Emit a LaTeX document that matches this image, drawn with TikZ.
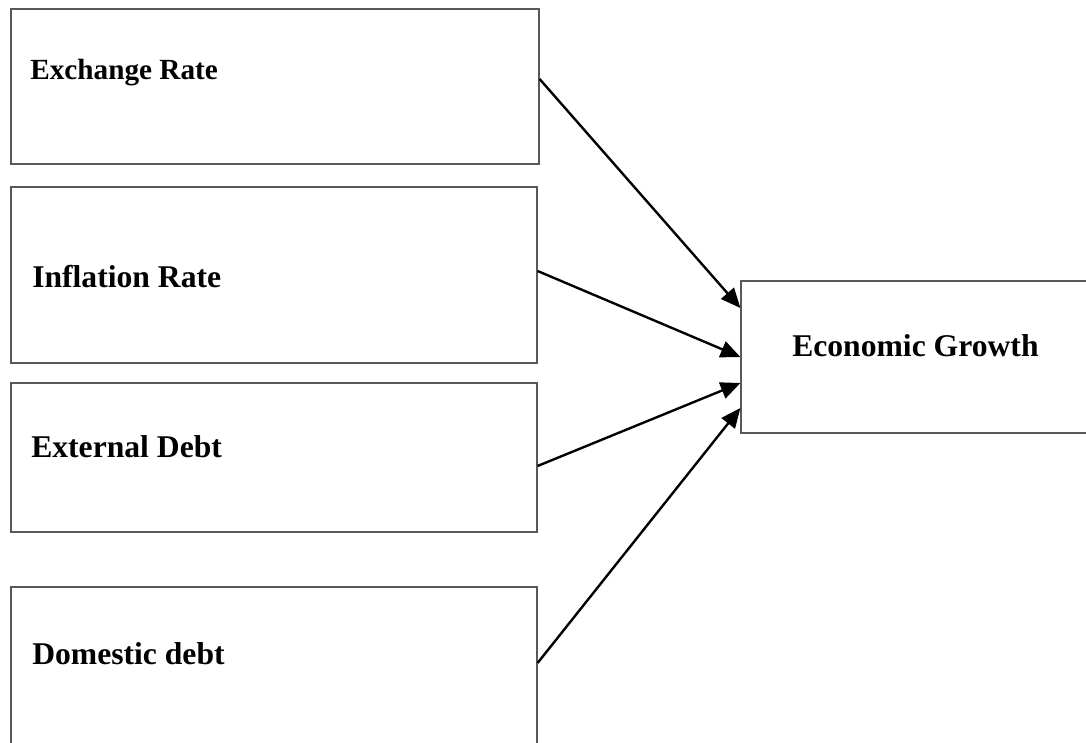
\documentclass[tikz,border=0pt]{standalone}
\usepackage{fontspec}
\setmainfont{Liberation Serif}
\usetikzlibrary{positioning,arrows.meta,calc}

\begin{document}
\begin{tikzpicture}[
  factor/.style={
    rectangle, draw=black!65, line width=0.85pt, inner sep=0pt
  },
  factorlabel/.style={anchor=base west, inner sep=0pt, font=\fontsize{22.5}{26}\selectfont\bfseries},
  arrow/.style={-{Triangle[length=14pt, width=12pt]}, line width=1.7pt, black}
]
\useasboundingbox (0,0) rectangle (27.15,18.55);

% === Factor boxes ===
\node[factor, minimum width=13.2cm, minimum height=3.875cm] (exch) at (6.875,16.3875) {};
\node[factor, minimum width=13.15cm, minimum height=4.4cm] (infl) at (6.85,11.675) {};
\node[factor, minimum width=13.15cm, minimum height=3.725cm] (extd) at (6.85,7.1125) {};
\node[factor, minimum width=13.15cm, minimum height=4.375cm] (domd) at (6.85,1.6875) {};

% === Outcome box ===
\node[factor, minimum width=8.975cm, minimum height=3.8cm] (growth) at (23.0125,9.625) {};

% === Labels ===
\node[factorlabel, font=\fontsize{20.8}{24}\selectfont\bfseries] (exchlbl) at (0.75,16.55) {Exchange Rate};
\node[factorlabel] (infllbl) at (0.8,11.35) {Inflation Rate};
\node[factorlabel] (extdlbl) at (0.775,7.1) {External Debt};
\node[factorlabel] (domdlbl) at (0.8,1.95) {Domestic debt};
\node[factorlabel] (growthlbl) at (19.8,9.625) {Economic Growth};

% === Arrows into growth ===
\draw[arrow] ($(exch.east)+(0,0.1875)$) -- ($(growth.west)+(0,1.225)$);
\draw[arrow] ($(infl.east)+(0,0.1)$) -- (growth.west);
\draw[arrow] ($(extd.east)+(0,-0.2125)$) -- ($(growth.west)+(0,-0.65)$);
\draw[arrow] ($(domd.east)+(0,0.2875)$) -- ($(growth.west)+(0,-1.275)$);

\end{tikzpicture}
\end{document}
